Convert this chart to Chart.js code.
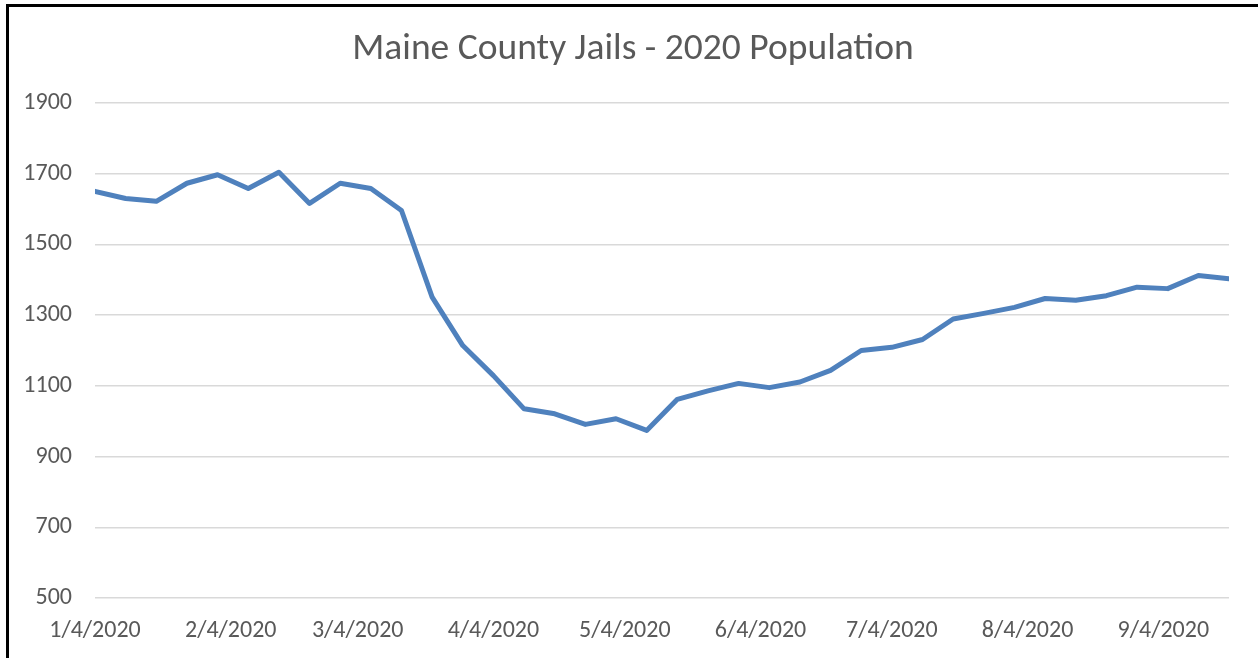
<!DOCTYPE html>
<html>
<head>
<meta charset="utf-8">
<script src="https://cdn.jsdelivr.net/npm/chart.js@4.4.1/dist/chart.umd.min.js"></script>
<style>
  html, body { margin: 0; padding: 0; background: #fff; overflow: hidden; }
  #wrap { position: relative; width: 1258px; height: 658px; }
  #frame { position: absolute; left: 6px; top: 4px; width: 1300px; height: 700px;
           border-left: 3px solid #000; border-top: 3px solid #000; pointer-events: none; }
</style>
</head>
<body>
<div id="wrap">
  <canvas id="jails" width="1258" height="658"></canvas>
  <div id="frame"></div>
</div>
<script>
// weekly counts, Saturdays from 1/4/2020
const weeks = [
  "1/4/2020", "1/11/2020", "1/18/2020", "1/25/2020", "2/1/2020", "2/8/2020",
  "2/15/2020", "2/22/2020", "2/29/2020", "3/7/2020", "3/14/2020", "3/21/2020",
  "3/28/2020", "4/4/2020", "4/11/2020", "4/18/2020", "4/25/2020", "5/2/2020",
  "5/9/2020", "5/16/2020", "5/23/2020", "5/30/2020", "6/6/2020", "6/13/2020",
  "6/20/2020", "6/27/2020", "7/4/2020", "7/11/2020", "7/18/2020", "7/25/2020",
  "8/1/2020", "8/8/2020", "8/15/2020", "8/22/2020", "8/29/2020", "9/5/2020",
  "9/12/2020", "9/19/2020"
];
const population = [
  1650, 1630, 1622, 1673, 1697, 1658, 1704, 1616, 1673, 1658,
  1596, 1351, 1214, 1129, 1035, 1021, 991, 1007, 974, 1062,
  1086, 1107, 1095, 1111, 1144, 1200, 1209, 1231, 1289, 1305,
  1322, 1347, 1342, 1355, 1379, 1375, 1412, 1403
];
const monthTicks = [
  "1/4/2020", "2/4/2020", "3/4/2020", "4/4/2020", "5/4/2020",
  "6/4/2020", "7/4/2020", "8/4/2020", "9/4/2020"
];

function dayNum(s) {
  const p = s.split('/');
  const d = Date.UTC(+p[2], +p[0] - 1, +p[1]);
  const start = Date.UTC(2020, 0, 4);
  return Math.round((d - start) / 86400000);
}

const points = weeks.map((w, i) => ({ x: dayNum(w), y: population[i] }));
const tickDays = monthTicks.map(dayNum);
const tickText = {};
monthTicks.forEach(t => { tickText[dayNum(t)] = t; });

const txt = '#595959';
const grid = '#d9d9d9';
const fam = 'Carlito, Calibri, Lato, sans-serif';

// nudge the title so it's centred on the whole frame, like excel does
const titleShift = {
  id: 'titleShift',
  afterLayout(chart) {
    const t = chart.titleBlock;
    if (t) { t.left = 37; t.width = t.right - t.left; }
  }
};

new Chart(document.getElementById('jails'), {
  type: 'line',
  data: {
    datasets: [{
      data: points,
      borderColor: '#4f81bd',
      borderWidth: 5,
      pointRadius: 0,
      tension: 0,
      borderCapStyle: 'round',
      borderJoinStyle: 'round'
    }]
  },
  options: {
    responsive: false,
    animation: false,
    layout: { padding: { top: 0, right: 29, bottom: 0, left: 0 } },
    plugins: {
      legend: { display: false },
      tooltip: { enabled: false },
      title: {
        display: true,
        text: 'Maine County Jails - 2020 Population',
        color: txt,
        font: { family: fam, size: 37.5, weight: 'normal' },
        padding: { top: 27, bottom: 31 }
      }
    },
    scales: {
      x: {
        type: 'linear',
        min: dayNum(weeks[0]),
        max: dayNum(weeks[weeks.length - 1]),
        afterBuildTicks: s => { s.ticks = tickDays.map(v => ({ value: v })); },
        afterFit: s => { s.height = 60; },
        grid: { display: false, drawTicks: false },
        border: { display: false },
        ticks: {
          color: txt,
          font: { family: fam, size: 24 },
          padding: 19,
          maxRotation: 0,
          autoSkip: false,
          callback: v => tickText[v] || ''
        }
      },
      y: {
        min: 500,
        max: 1900,
        afterFit: s => { s.width = 95; },
        grid: { color: grid, lineWidth: 1.5, drawTicks: false },
        border: { display: false },
        ticks: {
          stepSize: 200,
          color: txt,
          font: { family: fam, size: 24 },
          padding: 23,
          callback: v => String(v)
        }
      }
    }
  },
  plugins: [titleShift]
});
</script>
</body>
</html>
